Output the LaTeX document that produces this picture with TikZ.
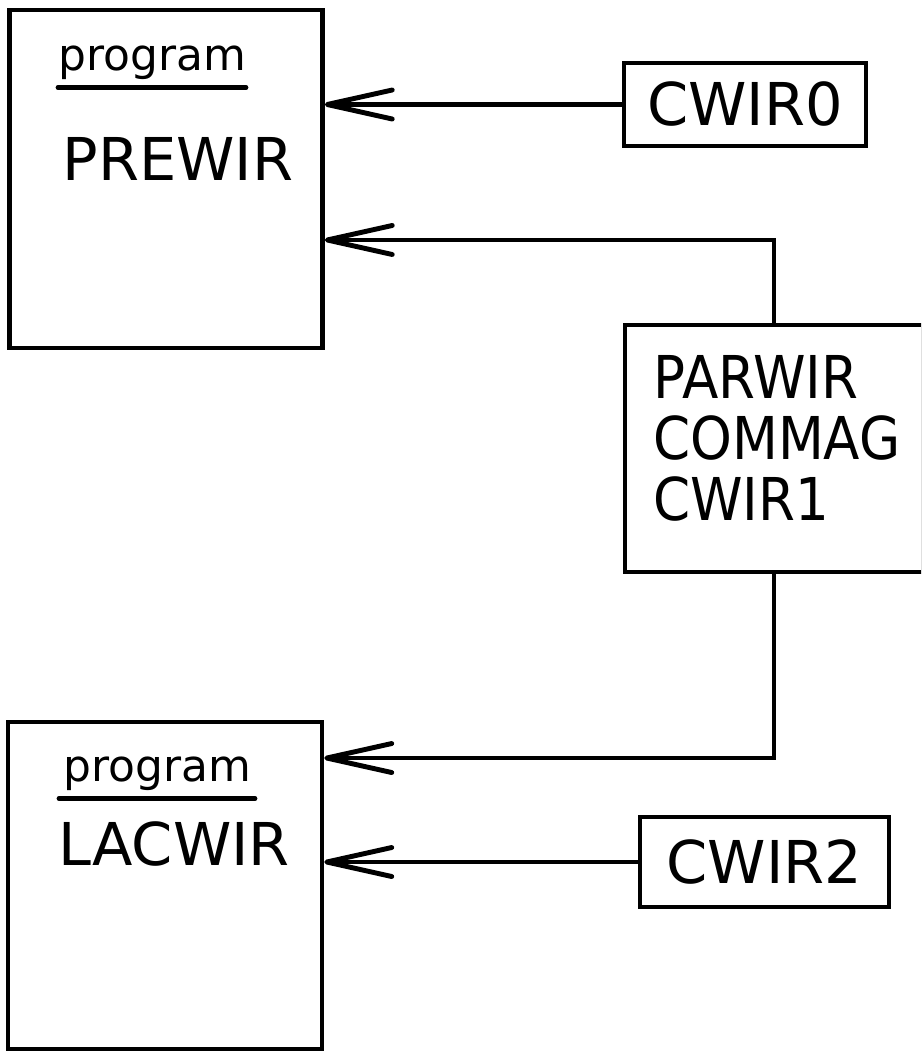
\documentclass[tikz,border=0pt]{standalone}
\usepackage{fontspec}
\setmainfont{DejaVu Sans}
\usetikzlibrary{positioning,arrows.meta,calc}
\tikzset{
  flowarrow/.style={-{Straight Barb[length=13mm, width=5.8mm, round, line width=2.8pt]}, line width=2.3pt},
  progbox/.style={draw, line width=2.6pt, inner sep=0pt, minimum width=6.26cm, minimum height=6.76cm},
  filebox/.style={draw, line width=2.6pt, inner sep=0pt, minimum width=4.84cm, minimum height=1.66cm, font=\fontsize{33.6}{40}\selectfont},
  subbox/.style={draw, line width=2.6pt, inner sep=0pt, minimum width=5.96cm, minimum height=4.94cm},
  kwlabel/.style={font=\fontsize{25}{30}\selectfont, inner sep=0pt, anchor=base},
  kwline/.style={line width=2.6pt, line cap=round},
  modlabel/.style={font=\fontsize{33.6}{40}\selectfont, inner sep=0pt, anchor=base}
}

\begin{document}
\begin{tikzpicture}[x=0.02cm, y=-0.02cm]
  \useasboundingbox (0,0) rectangle (921,1052);
  \clip (0,0) rectangle (921,1052);
  % program boxes
  \node[progbox] (prewir) at (166,179) {};
  \node[progbox, minimum width=6.28cm, minimum height=6.54cm] (lacwir) at (165,885.5) {};
  \node[kwlabel] (prewirkw) at (152,70) {program};
  \draw[kwline] ([yshift=-0.16cm]prewirkw.south west) -- ([yshift=-0.16cm]prewirkw.south east);
  \node[modlabel] (prewirname) at (178,180) {PREWIR};
  \node[kwlabel] (lacwirkw) at (157,781) {program};
  \draw[kwline] ([xshift=-0.08cm, yshift=-0.16cm]lacwirkw.south west) -- ([xshift=0.08cm, yshift=-0.16cm]lacwirkw.south east);
  \node[modlabel] (lacwirname) at (174,865) {LACWIR};
  % data and subroutine boxes
  \node[filebox] (cwir0) at (745,104.5) {CWIR0};
  \node[subbox] (parwir) at (774,448.5) {};
  \node[modlabel, anchor=north west, align=left, xscale=0.9,
        font=\fontsize{33.6}{34.7}\selectfont] (parwirlist) at (653,355) {PARWIR\\COMMAG\\CWIR1};
  \node[filebox, minimum width=4.98cm, minimum height=1.8cm] (cwir2) at (764.5,862) {CWIR2};
  % connections
  \draw[flowarrow] (cwir0.west) -- (cwir0.west -| prewir.east);
  \draw[flowarrow] (parwir.north) |- ([yshift=-1.22cm]prewir.east);
  \draw[flowarrow] (parwir.south) |- ([yshift=2.55cm]lacwir.east);
  \draw[flowarrow] (cwir2.west) -- (cwir2.west -| lacwir.east);
\end{tikzpicture}
\end{document}
